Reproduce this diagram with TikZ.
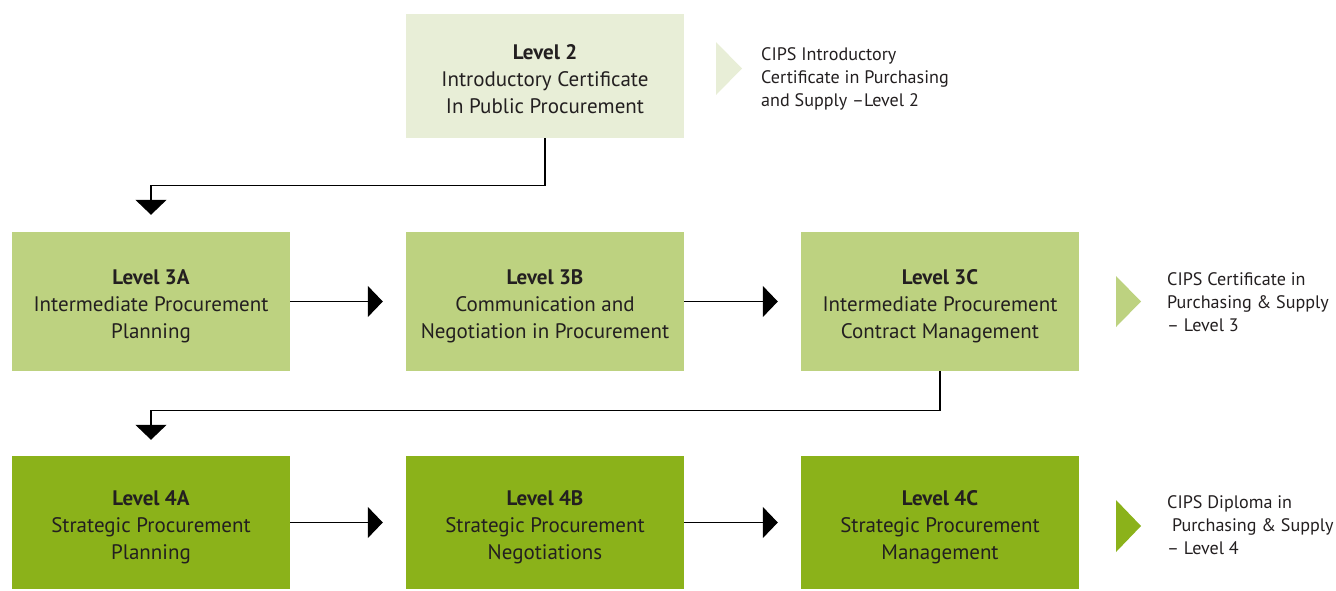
\documentclass[tikz,border=0pt]{standalone}
\usepackage{fontspec}
\setmainfont{PT Sans}
\usetikzlibrary{arrows.meta}
\definecolor{lvltwo}{HTML}{E8EED7}
\definecolor{lvlthree}{HTML}{BDD280}
\definecolor{lvlfour}{HTML}{8BB21A}
\definecolor{txt}{HTML}{231F20}
\tikzset{
  lvlbox/.style={minimum width=278pt, minimum height=#1, inner sep=0pt, align=center,
    text=txt, font=\fontsize{21}{27}\selectfont},
  cips/.style={anchor=west, align=left, inner sep=0pt, text=txt, font=\fontsize{18.1}{23}\selectfont},
  conn/.style={line width=1.2pt, draw=black, -{Triangle[width=31pt,length=15pt]}},
  tri/.style={fill=#1, draw=none}
}
\begin{document}
\begin{tikzpicture}[x=1pt,y=-1pt]
\useasboundingbox (0,0) rectangle (1336,590);
% boxes
\node[lvlbox=124pt, fill=lvltwo] (l2) at (545,76) {};
\node[lvlbox=139pt, fill=lvlthree] (a3) at (151,301.5) {};
\node[lvlbox=139pt, fill=lvlthree] (b3) at (545,301.5) {};
\node[lvlbox=139pt, fill=lvlthree] (c3) at (940,301.5) {};
\node[lvlbox=133pt, fill=lvlfour] (a4) at (151,522.5) {};
\node[lvlbox=133pt, fill=lvlfour] (b4) at (545,522.5) {};
\node[lvlbox=133pt, fill=lvlfour] (c4) at (940,522.5) {};
% box texts
\node[lvlbox=0pt] (l2t) at (545,79) {\textbf{Level 2}\\Introductory Certificate\\In Public Procurement};
\node[lvlbox=0pt] (a3t) at (151,306) {\textbf{Level 3A}\\Intermediate Procurement\\Planning};
\node[lvlbox=0pt] (b3t) at (545,306) {\textbf{Level 3B}\\Communication and\\Negotiation in Procurement};
\node[lvlbox=0pt] (c3t) at (940,306) {\textbf{Level 3C}\\Intermediate Procurement\\Contract Management};
\node[lvlbox=0pt] (a4t) at (151,527) {\textbf{Level 4A}\\Strategic Procurement\\Planning};
\node[lvlbox=0pt] (b4t) at (545,527) {\textbf{Level 4B}\\Strategic Procurement\\Negotiations};
\node[lvlbox=0pt] (c4t) at (940,527) {\textbf{Level 4C}\\Strategic Procurement\\Management};
% connectors
\draw[conn, shorten >=17pt] (l2.south) -- ++(0,47) -| (a3.north);
\draw[conn, shorten >=16pt] (c3.south) -- ++(0,39) -| (a4.north);
\draw[conn, shorten >=23pt] (a3.east) -- (b3.west);
\draw[conn, shorten >=23pt] (b3.east) -- (c3.west);
\draw[conn, shorten >=23pt] (a4.east) -- (b4.west);
\draw[conn, shorten >=23pt] (b4.east) -- (c4.west);
% side markers
\fill[tri=lvltwo] (716,42) -- (742,68.5) -- (716,95) -- cycle;
\fill[tri=lvlthree] (1116,276) -- (1141,301.5) -- (1116,327) -- cycle;
\fill[tri=lvlfour] (1116,500) -- (1141,526) -- (1116,552) -- cycle;
\node[cips] (t2) at (761,79) {CIPS Introductory\\Certificate in Purchasing\\and Supply –Level 2};
\node[cips] (t3) at (1167,302.5) {CIPS Certificate in\\Purchasing \& Supply\\– Level 3};
\node[cips] (t4) at (1167,525.5) {CIPS Diploma in\\\ Purchasing \& Supply\\– Level 4};
\end{tikzpicture}
\end{document}
